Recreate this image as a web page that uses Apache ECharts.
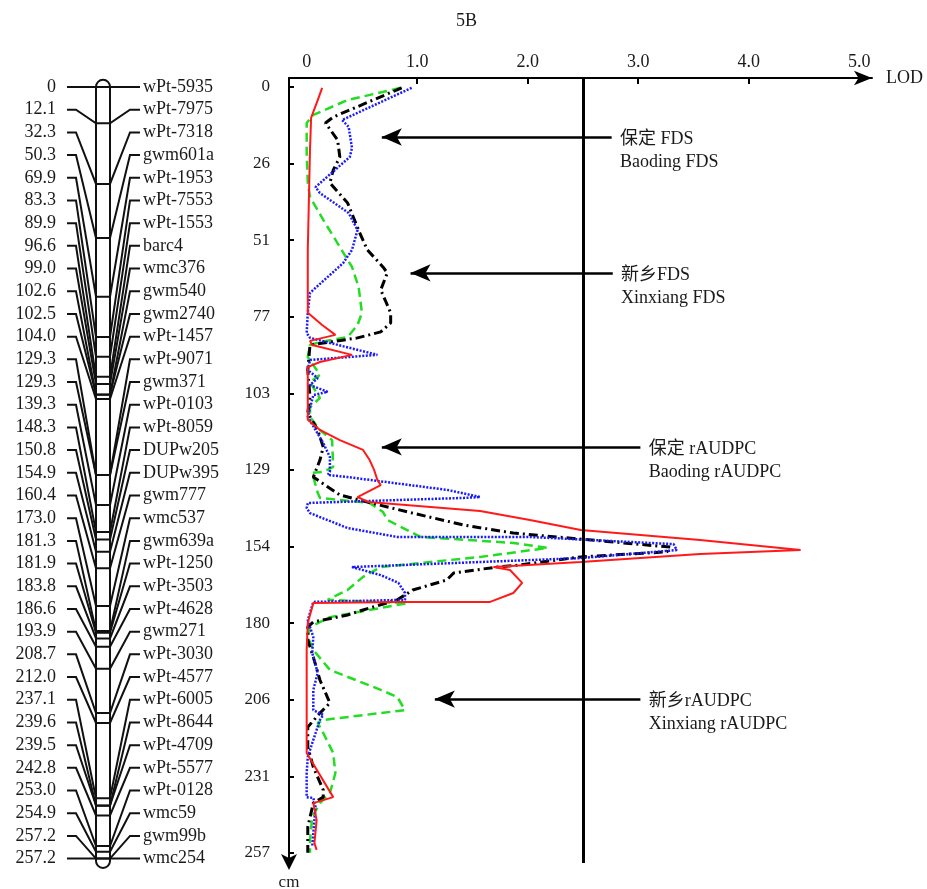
<!DOCTYPE html>
<html><head><meta charset="utf-8">
<script src="https://cdn.jsdelivr.net/npm/echarts@6/dist/echarts.min.js"></script>
<style>html,body{margin:0;padding:0;background:#fff}#c{width:927px;height:889px}</style>
</head><body><div id="c"></div>
<script>
// ---------------- data ----------------
const markerNames = ['wPt-5935','wPt-7975','wPt-7318','gwm601a','wPt-1953','wPt-7553','wPt-1553','barc4','wmc376','gwm540','gwm2740','wPt-1457','wPt-9071','gwm371','wPt-0103','wPt-8059','DUPw205','DUPw395','gwm777','wmc537','gwm639a','wPt-1250','wPt-3503','wPt-4628','gwm271','wPt-3030','wPt-4577','wPt-6005','wPt-8644','wPt-4709','wPt-5577','wPt-0128','wmc59','gwm99b','wmc254'];
const markerPos = [0,12.1,32.3,50.3,69.9,83.3,89.9,96.6,99.0,102.6,102.5,104.0,129.3,129.3,139.3,148.3,150.8,154.9,160.4,173.0,181.3,181.9,183.8,186.6,193.9,208.7,212.0,237.1,239.6,239.5,242.8,253.0,254.9,257.2,257.2];

const lodTickValues = [0,1,2,3,4,5];
const lodTickLabels = ['0','1.0','2.0','3.0','4.0','5.0'];
const cmTickValues = [0,25.7,51.4,77.1,102.8,128.5,154.2,179.9,205.6,231.3,257];
const cmTickLabels = ['0','26','51','77','103','129','154','180','206','231','257'];
const lodThreshold = 2.5;

// [LOD, cM]
const baodingRAUDPC = [[0.14,0.3],[0.10,4.4],[0.04,10.4],[0.03,21.1],[0.02,37.9],[0.01,54.7],[0.01,71.5],[0.01,75.8],[0.14,79.9],[0.26,83.2],[0.03,85.2],[0.05,86.6],[0.41,89.9],[0.12,92.3],[0.01,94.0],[0.01,98.3],[0.01,105.0],[0.01,111.7],[0.12,115.1],[0.30,118.5],[0.51,121.8],[0.57,125.2],[0.61,128.5],[0.64,131.9],[0.67,133.6],[0.46,137.6],[0.56,139.3],[1.57,142.3],[2.02,145.3],[2.48,148.7],[3.56,152.0],[4.47,155.4],[3.56,156.7],[2.48,159.4],[1.69,161.1],[1.84,162.1],[1.95,166.4],[1.87,169.8],[1.66,172.8],[0.85,172.8],[0.06,173.2],[0.01,179.9],[0.0,188.9],[0.0,205.7],[0.0,223.5],[0.24,238.3],[0.06,240.3],[0.09,246.0],[0.07,253.7],[0.09,256.0]];
const baodingFDS = [[0.95,0.3],[0.32,11.1],[0.38,13.4],[0.41,20.5],[0.39,23.5],[0.08,33.6],[0.12,35.6],[0.38,42.3],[0.46,48.0],[0.41,54.7],[0.33,59.1],[0.03,69.1],[0.01,75.8],[0.0,82.6],[0.03,84.2],[0.64,89.9],[0.03,91.6],[0.01,95.0],[0.10,97.7],[0.03,100.0],[0.19,102.3],[0.06,103.4],[0.01,110.7],[0.15,119.5],[0.21,124.2],[0.21,129.2],[0.19,130.2],[0.37,130.9],[1.27,135.2],[1.57,137.6],[1.42,137.9],[0.01,139.6],[0.0,141.3],[0.03,143.0],[0.37,148.0],[0.82,151.0],[2.02,151.0],[3.32,153.4],[3.35,155.4],[2.48,158.1],[1.57,159.4],[0.41,161.1],[0.67,163.8],[0.83,166.4],[0.89,169.8],[0.89,172.1],[0.06,172.8],[0.01,178.9],[0.06,184.6],[0.05,189.9],[0.10,196.6],[0.06,202.3],[0.06,209.1],[0.15,210.7],[0.12,212.4],[0.06,219.1],[0.01,224.8],[0.0,230.2],[0.0,238.3],[0.06,238.6],[0.08,241.6],[0.06,250.3],[0.05,255.0]];
const xinxiangFDS = [[0.86,0.3],[0.24,10.1],[0.17,12.1],[0.28,17.8],[0.30,23.5],[0.24,27.9],[0.21,32.2],[0.37,38.9],[0.48,49.0],[0.55,54.7],[0.69,60.4],[0.73,62.4],[0.67,68.1],[0.71,71.5],[0.76,75.8],[0.76,79.2],[0.67,82.2],[0.46,84.2],[0.21,85.6],[0.03,86.6],[0.01,95.0],[0.03,104.0],[0.01,109.4],[0.10,115.1],[0.15,120.8],[0.12,125.2],[0.06,130.9],[0.30,136.9],[0.55,139.3],[0.96,143.0],[1.42,147.0],[1.87,149.7],[3.29,154.4],[3.26,156.0],[2.48,157.7],[1.93,160.4],[1.72,161.1],[1.33,163.1],[1.27,165.4],[0.96,168.8],[0.82,172.1],[0.51,175.5],[0.37,177.2],[0.06,179.5],[0.01,181.2],[0.01,185.6],[0.06,191.3],[0.12,199.0],[0.21,206.7],[0.12,210.1],[0.01,214.8],[0.01,221.5],[0.06,228.2],[0.15,235.9],[0.15,238.3],[0.06,240.3],[0.01,248.3],[0.01,257.0]];
const xinxiangRAUDPC = [[0.85,0.3],[0.37,4.4],[0.06,9.4],[0.0,12.1],[0.0,22.1],[0.01,32.2],[0.03,36.9],[0.15,44.6],[0.30,53.7],[0.41,60.4],[0.47,67.1],[0.50,75.8],[0.46,79.9],[0.37,83.9],[0.12,85.6],[0.03,86.6],[0.01,90.6],[0.12,96.6],[0.03,99.0],[0.12,104.4],[0.03,107.4],[0.03,110.7],[0.12,115.1],[0.23,118.5],[0.24,127.5],[0.15,129.2],[0.05,129.5],[0.10,136.2],[0.12,137.9],[0.57,139.6],[0.69,142.6],[0.73,145.3],[0.91,148.7],[1.03,151.0],[1.87,153.0],[2.18,154.7],[1.57,157.7],[0.67,161.1],[0.51,164.4],[0.37,168.8],[0.19,172.1],[0.91,173.2],[0.21,177.9],[0.03,181.2],[0.01,184.6],[0.06,188.9],[0.21,195.6],[0.67,202.3],[0.82,204.7],[0.89,209.1],[0.15,212.4],[0.10,213.4],[0.15,216.8],[0.24,223.5],[0.26,230.2],[0.21,236.9],[0.12,240.3],[0.05,245.0],[0.03,252.7],[0.03,257.0]];

// annotations
const annotCN = ['保定 FDS','新乡FDS','保定 rAUDPC','新乡rAUDPC'];
const annotEN = ['Baoding FDS','Xinxiang FDS','Baoding rAUDPC','Xinxiang rAUDPC'];
const annotCM = [16.8, 62.4, 120.8, 205.4];
const arrowTipLod = [0.59, 0.85, 0.59, 1.07];
const arrowTailLod = [2.76, 2.77, 3.02, 3.02];

// ---------------- chart ----------------
const SERIF = '"Liberation Serif", "Noto Sans CJK SC", serif';
const TXT = '#1a1a1a';
const chart = echarts.init(document.getElementById('c'), null, {renderer: 'canvas'});
const nM = markerPos.length;
const mapMax = markerPos[nM - 1];

function renderChromosome(params, api) {
  const a = api.coord([96, -2.4]);
  const b = api.coord([110, mapMax + 3.1]);
  return {type: 'rect', shape: {x: a[0], y: a[1], width: b[0] - a[0], height: b[1] - a[1], r: 7},
    style: {fill: '#fff', stroke: '#111', lineWidth: 2}};
}
function renderMarker(params, api) {
  const i = params.dataIndex;
  const pos = api.value(1);
  const row = i * mapMax / (nM - 1);
  const P = (x, v) => api.coord([x, v]);
  const pts = [P(67, row), P(76, row), P(96, pos), P(110, pos), P(130, row), P(140, row)];
  const l = P(56, row), r = P(143, row);
  const posText = markerPos[i] === 0 ? '0' : markerPos[i].toFixed(1);
  return {type: 'group', children: [
    {type: 'polyline', shape: {points: pts}, style: {stroke: '#111', lineWidth: 2, fill: null}},
    {type: 'text', x: l[0], y: l[1], style: {text: posText, fill: TXT, fontSize: 18, fontFamily: SERIF, align: 'right', verticalAlign: 'middle'}},
    {type: 'text', x: r[0], y: r[1], style: {text: markerNames[i], fill: TXT, fontSize: 18, fontFamily: SERIF, align: 'left', verticalAlign: 'middle'}}
  ]};
}
function renderAnnot(params, api) {
  const i = params.dataIndex;
  const p = api.coord([api.value(0), api.value(1)]);
  return {type: 'group', children: [
    {type: 'text', x: p[0], y: p[1] + 2, style: {text: annotCN[i], fill: TXT, fontSize: 18, fontFamily: SERIF, align: 'left', verticalAlign: 'middle'}},
    {type: 'text', x: p[0], y: p[1] + 25, style: {text: annotEN[i], fill: TXT, fontSize: 18, fontFamily: SERIF, align: 'left', verticalAlign: 'middle'}}
  ]};
}

const lineBase = {type: 'line', xAxisIndex: 1, yAxisIndex: 1, symbol: 'none', showSymbol: false, silent: true};

const option = {
  animation: false,
  backgroundColor: '#fff',
  title: {text: '5B', left: 451, top: 7, textStyle: {fontFamily: SERIF, fontSize: 18, fontWeight: 'normal', color: TXT}},
  grid: [
    {left: 0, top: 80, width: 230, height: 788, outerBoundsMode: 'none', containLabel: false},
    {left: 289, top: 78, width: 583, height: 785, outerBoundsMode: 'none', containLabel: false}
  ],
  xAxis: [
    {gridIndex: 0, type: 'value', min: 0, max: 230, show: false},
    {gridIndex: 1, type: 'value', position: 'top', min: -0.16, max: 5.116,
      axisLine: {onZero: false, lineStyle: {color: '#000', width: 2}, symbol: ['none', 'arrow'], symbolSize: [11, 18]},
      axisTick: {show: true, inside: true, length: 6, customValues: [1, 2, 3, 4], lineStyle: {color: '#000', width: 2}},
      axisLabel: {customValues: lodTickValues, formatter: v => lodTickLabels[Math.round(v)], margin: 7, fontSize: 18, fontFamily: SERIF, color: TXT},
      splitLine: {show: false},
      name: 'LOD', nameLocation: 'end', nameGap: 14, nameTextStyle: {fontSize: 18, fontFamily: SERIF, color: TXT}}
  ],
  yAxis: [
    {gridIndex: 0, type: 'value', min: -2.33, max: 260.33, inverse: true, show: false},
    {gridIndex: 1, type: 'value', min: -3, max: 260.4, inverse: true,
      axisLine: {onZero: false, lineStyle: {color: '#000', width: 2}, symbol: ['arrow', 'none'], symbolSize: [12, 16], symbolOffset: [-7, 0]},
      axisTick: {show: true, inside: true, length: 5, customValues: cmTickValues, lineStyle: {color: '#000', width: 2}},
      axisLabel: {customValues: cmTickValues, formatter: v => cmTickLabels[Math.round(v / 25.7)], margin: 19, fontSize: 17, fontFamily: SERIF, color: TXT},
      splitLine: {show: false},
      name: 'cm', nameLocation: 'end', nameGap: 11, nameTextStyle: {fontSize: 17, fontFamily: SERIF, color: TXT}}
  ],
  series: [
    {type: 'custom', xAxisIndex: 0, yAxisIndex: 0, data: [[0, 0]], renderItem: renderChromosome, silent: true},
    {type: 'custom', xAxisIndex: 0, yAxisIndex: 0, data: markerPos.map((p, i) => [i, p]), renderItem: renderMarker, silent: true},
    Object.assign({}, lineBase, {name: '新乡rAUDPC', data: xinxiangRAUDPC, lineStyle: {color: '#22dd22', width: 2.5, type: [9, 5]}}),
    Object.assign({}, lineBase, {name: '新乡FDS', data: xinxiangFDS, lineStyle: {color: '#000', width: 3, type: [9, 4, 2, 4]}}),
    Object.assign({}, lineBase, {name: '保定 FDS', data: baodingFDS, lineStyle: {color: '#1a1aff', width: 2.5, type: [2, 1.5]}}),
    Object.assign({}, lineBase, {name: '保定 rAUDPC', data: baodingRAUDPC, lineStyle: {color: '#ff1a1a', width: 2}}),
    Object.assign({}, lineBase, {name: 'threshold', data: [],
      markLine: {silent: true, symbol: ['none', 'none'], label: {show: false}, animation: false,
        lineStyle: {color: '#000', width: 3, type: 'solid'}, data: [{xAxis: lodThreshold}]}}),
    Object.assign({}, lineBase, {name: 'arrows', data: [],
      markLine: {silent: true, symbol: ['none', 'arrow'], symbolSize: [13, 20], label: {show: false}, animation: false,
        lineStyle: {color: '#000', width: 2.5, type: 'solid'},
        data: annotCM.map((c, i) => [{coord: [arrowTailLod[i], c]}, {coord: [arrowTipLod[i] + 0.09, c]}])}}),
    {type: 'custom', xAxisIndex: 1, yAxisIndex: 1, silent: true,
      data: annotCM.map((c, i) => [arrowTailLod[i] + 0.075, c]), renderItem: renderAnnot}
  ]
};
chart.setOption(option);
</script></body></html>
